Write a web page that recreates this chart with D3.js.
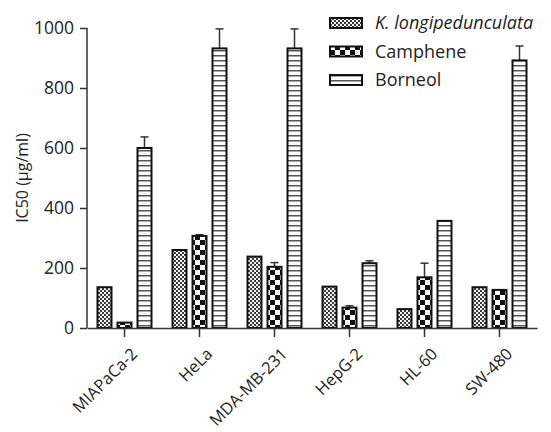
<!DOCTYPE html>
<html><head><meta charset="utf-8">
<script src="https://cdn.jsdelivr.net/npm/d3@7"></script>
<style>body{margin:0;background:#fff}svg{display:block}text{font-family:"Open Sans",sans-serif;fill:#222}</style>
</head><body>
<script>
const categories = ["MIAPaCa-2","HeLa","MDA-MB-231","HepG-2","HL-60","SW-480"];
const seriesNames = ["K. longipedunculata","Camphene","Borneol"];
const kLong = [136, 260, 238, 138, 63, 136];
const kLongErr = [0, 0, 0, 0, 0, 0];
const camphene = [18, 307, 204, 68, 169, 127];
const campheneErr = [0, 4, 14, 6, 47, 0];
const borneol = [600, 932, 932, 216, 357, 892];
const borneolErr = [37, 65, 65, 8, 0, 48];
const yTicks = [0, 200, 400, 600, 800, 1000];

const W = 551, H = 432;
const svg = d3.select("body").append("svg").attr("width", W).attr("height", H);
const defs = svg.append("defs");

// patterns
const p0 = defs.append("pattern").attr("id","pat0").attr("patternUnits","userSpaceOnUse").attr("width",4).attr("height",4);
p0.append("rect").attr("width",4).attr("height",4).attr("fill","#3a3a3a");
p0.append("rect").attr("x",0).attr("y",0).attr("width",2).attr("height",2).attr("fill","#f4f4f4");
p0.append("rect").attr("x",2).attr("y",2).attr("width",2).attr("height",2).attr("fill","#f4f4f4");
const p1 = defs.append("pattern").attr("id","pat1").attr("patternUnits","userSpaceOnUse").attr("width",10).attr("height",10);
p1.append("rect").attr("width",10).attr("height",10).attr("fill","#fff");
p1.append("rect").attr("x",0).attr("y",0).attr("width",5).attr("height",5).attr("fill","#111");
p1.append("rect").attr("x",5).attr("y",5).attr("width",5).attr("height",5).attr("fill","#111");
const p2 = defs.append("pattern").attr("id","pat2").attr("patternUnits","userSpaceOnUse").attr("width",5).attr("height",5);
p2.append("rect").attr("width",5).attr("height",5).attr("fill","#fff");
p2.append("rect").attr("x",0).attr("y",0).attr("width",5).attr("height",1.5).attr("fill","#555");

const x = d3.scaleBand().domain(categories).range([87, 537]).padding(0);
const xs = d3.scaleBand().domain(seriesNames).range([-28, 28]).paddingInner(0.2).paddingOuter(0);
const y = d3.scaleLinear().domain([0, 1000]).range([328, 28]);

const series = [
  {name: seriesNames[0], vals: kLong, errs: kLongErr, pat: "url(#pat0)"},
  {name: seriesNames[1], vals: camphene, errs: campheneErr, pat: "url(#pat1)"},
  {name: seriesNames[2], vals: borneol, errs: borneolErr, pat: "url(#pat2)"}
];

// error bars
series.forEach(s => {
  categories.forEach((c, i) => {
    if (!s.errs[i]) return;
    const cx = x(c) + x.bandwidth()/2 + xs(s.name) + xs.bandwidth()/2;
    svg.append("line").attr("x1", cx).attr("x2", cx).attr("y1", y(s.vals[i])).attr("y2", y(s.vals[i] + s.errs[i]))
      .attr("stroke","#333").attr("stroke-width",1.5);
    svg.append("line").attr("x1", cx-4).attr("x2", cx+4).attr("y1", y(s.vals[i] + s.errs[i])).attr("y2", y(s.vals[i] + s.errs[i]))
      .attr("stroke","#333").attr("stroke-width",1.5);
  });
});

// bars
series.forEach(s => {
  svg.append("g").selectAll("rect").data(categories).join("rect")
    .attr("x", c => x(c) + x.bandwidth()/2 + xs(s.name) + 1)
    .attr("y", (c,i) => y(s.vals[i]))
    .attr("width", xs.bandwidth() - 2)
    .attr("height", (c,i) => y(0) - y(s.vals[i]))
    .attr("fill", s.pat).attr("stroke","#111").attr("stroke-width",2);
});

// y axis
const yAxis = svg.append("g").attr("transform","translate(87,0)")
  .call(d3.axisLeft(y).tickValues(yTicks).tickSize(7).tickPadding(6).tickFormat(d3.format("d")));
yAxis.select(".domain").attr("stroke","#333").attr("stroke-width",1.5).attr("d","M0,328V28");
yAxis.selectAll(".tick line").attr("stroke","#333").attr("stroke-width",1.5);
yAxis.selectAll("text").style("font-size","17.5px").attr("fill","#222");

// x axis
const xAxis = svg.append("g").attr("transform","translate(0,328)")
  .call(d3.axisBottom(x).tickSize(9).tickSizeOuter(0));
xAxis.select(".domain").attr("stroke","#333").attr("stroke-width",1.5);
xAxis.selectAll(".tick line").attr("stroke","#333").attr("stroke-width",1.5);
xAxis.selectAll("text").style("font-size","16.5px").attr("fill","#222")
  .attr("text-anchor","end").attr("dy",null).attr("y",null)
  .attr("transform","translate(14,27) rotate(-45)");

// y label
svg.append("text").attr("transform","translate(28,178) rotate(-90)").attr("text-anchor","middle")
  .style("font-size","16px").text("IC50 (μg/ml)");

// legend
const lg = svg.append("g");
series.forEach((s, i) => {
  const cy = 23 + i*28.5;
  lg.append("rect").attr("x",330).attr("y",cy-5).attr("width",32).attr("height",10)
    .attr("fill",s.pat).attr("stroke","#111").attr("stroke-width",2);
  lg.append("text").attr("x",375).attr("y",cy+6).style("font-size","18px")
    .style("font-style", i===0 ? "italic" : "normal").text(s.name);
});
</script>
</body></html>
